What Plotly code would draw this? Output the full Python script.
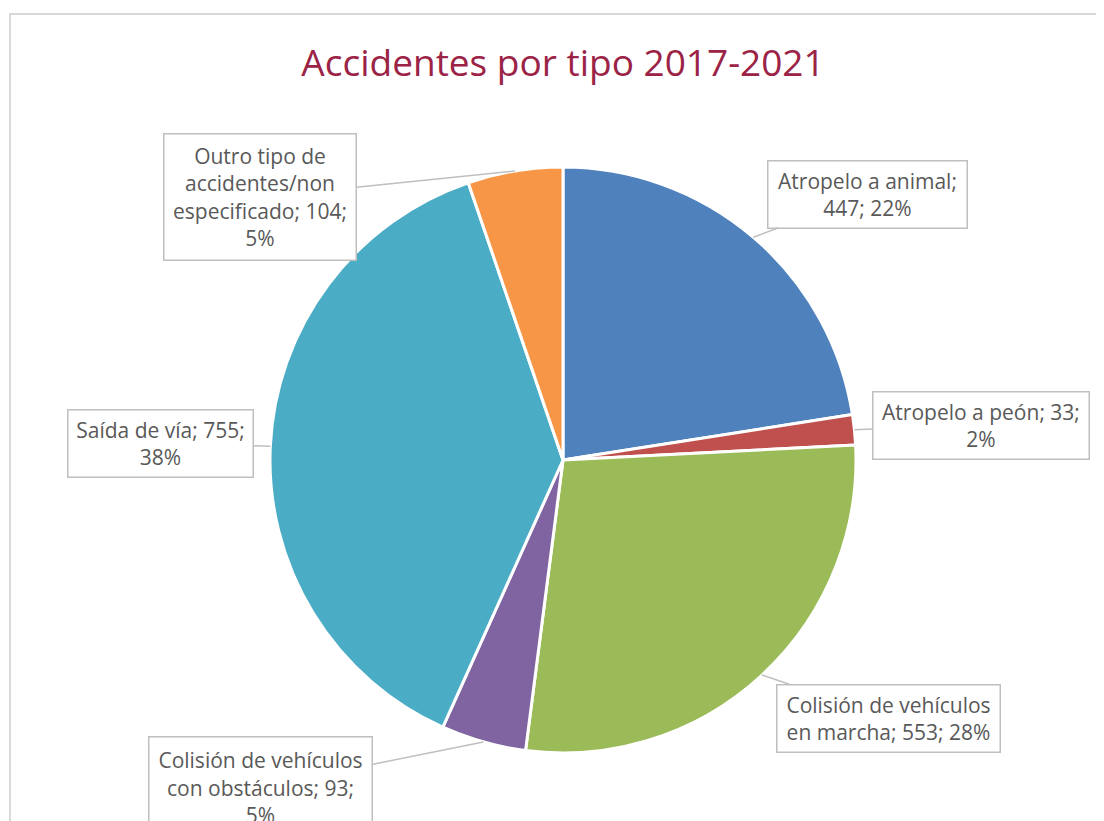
import math
import plotly.graph_objects as go

# data
tipos = ["Atropelo a animal", "Atropelo a peón", "Colisión de vehículos en marcha",
         "Colisión de vehículos con obstáculos", "Saída de vía",
         "Outro tipo de accidentes/non especificado"]
accidentes = [447, 33, 553, 93, 755, 104]
cores = ["#4F81BD", "#C0504D", "#9BBB59", "#8064A2", "#4BACC6", "#F79646"]
etiquetas = ["Atropelo a animal;<br>447; 22%",
             "Atropelo a peón; 33;<br>2%",
             "Colisión de vehículos<br>en marcha; 553; 28%",
             "Colisión de vehículos<br>con obstáculos; 93;<br>5%",
             "Saída de vía; 755;<br>38%",
             "Outro tipo de<br>accidentes/non<br>especificado; 104;<br>5%"]

W, H = 1104, 821
OFF = 8  # page body margin
cx, cy, r = 563, 460, 293  # pie centre / radius in screen px

# label box centres (screen px) and box sizes
caixas = [(867, 194, 190, 58), (981, 425, 207, 58), (888, 718, 214, 58),
          (260, 787, 214, 92), (160, 443, 176, 58), (260, 197, 183, 117)]

fig = go.Figure()
fig.add_trace(go.Pie(
    labels=tipos, values=accidentes, sort=False, direction="clockwise",
    rotation=0, textinfo="none", hoverinfo="label+value+percent",
    marker=dict(colors=cores, line=dict(color="white", width=3)),
    domain=dict(x=[(cx - r - OFF) / W, (cx + r - OFF) / W],
                y=[1 - (cy + r - OFF) / H, 1 - (cy - r - OFF) / H]),
    showlegend=False,
))
# invisible pixel axes for annotations
fig.add_trace(go.Scatter(x=[0, W], y=[0, H], mode="markers", marker=dict(opacity=0),
                         hoverinfo="skip", showlegend=False))

total = sum(accidentes)
acum = 0
for v, txt, (bx, by, bw, bh) in zip(accidentes, etiquetas, caixas):
    mid = (acum + v / 2) / total * 2 * math.pi
    acum += v
    tx = cx + r * math.sin(mid)
    ty = cy - r * math.cos(mid)
    fig.add_annotation(
        x=tx, y=ty, ax=bx, ay=by, xref="x", yref="y", axref="x", ayref="y",
        text=txt, showarrow=True, arrowhead=0, arrowwidth=1.5, arrowcolor="#BFBFBF",
        bordercolor="#BFBFBF", borderwidth=1.5, borderpad=4, bgcolor="white",
        width=bw, height=bh, align="center", valign="middle",
        font=dict(family="Open Sans", size=21, color="#595959"),
    )

fig.add_shape(type="rect", xref="x", yref="y", x0=10, y0=14, x1=W + 20, y1=H + 20,
              line=dict(color="#D9D9D9", width=2), layer="below")

fig.update_layout(
    width=W, height=H, margin=dict(l=0, r=0, t=0, b=0),
    paper_bgcolor="white", plot_bgcolor="white",
    xaxis=dict(range=[OFF, W + OFF], visible=False, fixedrange=True),
    yaxis=dict(range=[H + OFF, OFF], visible=False, fixedrange=True),
    title=dict(text="Accidentes por tipo 2017-2021", x=(563 - OFF) / W, xanchor="center",
               y=1 - (63 - OFF) / H, yanchor="middle",
               font=dict(family="Open Sans", size=37, color="#9B2346")),
)

fig.write_html("out.html")
